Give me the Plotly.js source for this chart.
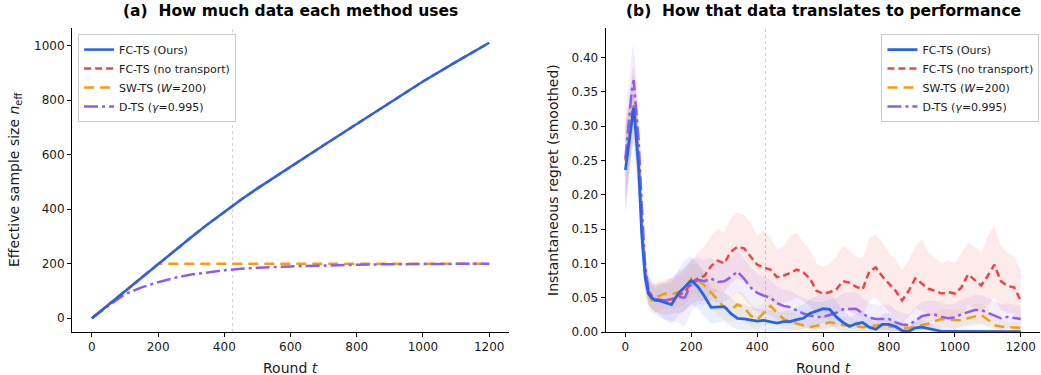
<!DOCTYPE html>
<html>
<head>
<meta charset="utf-8">
<script src="https://cdn.plot.ly/plotly-3.0.1.min.js"></script>
<style>html,body{margin:0;padding:0;background:#fff;}#chart{width:1041px;height:375px;}</style>
</head>
<body>
<div id="chart"></div>
<script>
// ---------- Panel (a): effective sample size ----------
const roundsA = [0,50,100,150,200,250,300,350,400,450,500,600,700,800,900,1000,1100,1200];
const neffFC  = [0,50,100,150,200,249,297,345,391,434,476,556,634,712,790,868,940,1010];
const neffNT  = [0,50,100,150,200,249,297,345,391,434,476,556,634,712,790,868,940,1010];
const neffSW  = [0,50,100,150,200,200,200,200,200,200,200,200,200,200,200,200,200,200];
const neffDT  = [0,46,88,113,132,148,160,169,176,181,185,190,194,196,198,199,200,200];

// ---------- Panel (b): smoothed instantaneous regret ----------
const roundsB = [0,10,20,25,30,40,50,60,70,80,90,100,120,140,160,180,200,220,240,260,280,300,320,340,360,380,400,420,440,460,480,500,520,540,560,580,600,620,640,660,680,700,720,740,760,780,800,820,840,860,880,900,920,940,960,980,1000,1020,1040,1060,1080,1100,1120,1140,1160,1180,1200];

const regFC = [0.236,0.275,0.315,0.327,0.300,0.240,0.140,0.080,0.056,0.050,0.046,0.046,0.043,0.040,0.056,0.066,0.075,0.066,0.052,0.036,0.036,0.037,0.027,0.020,0.019,0.017,0.016,0.017,0.015,0.013,0.015,0.015,0.018,0.020,0.027,0.030,0.034,0.033,0.022,0.014,0.008,0.012,0.014,0.007,0.004,0.011,0.011,0.008,0.002,0.001,0.006,0.007,0.005,0.002,0.001,0.001,0.001,0.001,0.0008,0.0006,0.0005,0.0005,0.0005,0.0004,0.0004,0.0004,0.0004];
const regFCLo = [0.175,0.22,0.26,0.275,0.245,0.19,0.10,0.06,0.04,0.034,0.03,0.026,0.018,0.012,0.024,0.032,0.04,0.034,0.022,0.012,0.014,0.016,0.008,0.004,0.003,0.002,0.002,0.002,0.002,0.001,0.002,0.002,0.003,0.004,0.008,0.01,0.014,0.013,0.004,0,0,0,0,0,0,0,0,0,0,0,0,0,0,0,0,0,0,0,0,0,0,0,0,0,0,0,0];
const regFCHi = [0.30,0.33,0.37,0.38,0.36,0.29,0.18,0.10,0.075,0.068,0.064,0.068,0.07,0.072,0.09,0.105,0.11,0.10,0.085,0.065,0.06,0.058,0.05,0.042,0.04,0.036,0.034,0.034,0.032,0.028,0.03,0.032,0.036,0.04,0.048,0.052,0.056,0.055,0.045,0.032,0.022,0.026,0.03,0.02,0.014,0.026,0.028,0.022,0.01,0.006,0.016,0.018,0.015,0.008,0.005,0.004,0.004,0.003,0.003,0.003,0.003,0.003,0.003,0.003,0.003,0.003,0.003];

const regNT = [0.25,0.28,0.32,0.33,0.31,0.25,0.15,0.085,0.06,0.052,0.048,0.046,0.045,0.048,0.053,0.058,0.072,0.078,0.082,0.096,0.104,0.100,0.117,0.124,0.122,0.110,0.098,0.094,0.091,0.080,0.082,0.086,0.091,0.087,0.078,0.060,0.056,0.058,0.062,0.074,0.072,0.066,0.062,0.088,0.094,0.081,0.070,0.060,0.046,0.060,0.078,0.070,0.063,0.060,0.056,0.058,0.056,0.065,0.084,0.076,0.068,0.082,0.098,0.074,0.067,0.065,0.046];
const regNTLo = [0.19,0.23,0.27,0.28,0.26,0.20,0.11,0.06,0.04,0.035,0.03,0.028,0.025,0.026,0.028,0.03,0.04,0.045,0.045,0.055,0.06,0.058,0.07,0.078,0.075,0.065,0.055,0.05,0.048,0.04,0.042,0.045,0.05,0.045,0.038,0.025,0.02,0.022,0.025,0.032,0.03,0.025,0.022,0.045,0.05,0.04,0.03,0.022,0.012,0.022,0.035,0.03,0.025,0.022,0.018,0.02,0.018,0.025,0.04,0.035,0.028,0.038,0.05,0.032,0.028,0.026,0.012];
const regNTHi = [0.30,0.33,0.38,0.39,0.37,0.30,0.19,0.11,0.08,0.07,0.068,0.07,0.072,0.078,0.085,0.092,0.105,0.115,0.125,0.14,0.15,0.145,0.165,0.175,0.17,0.16,0.14,0.148,0.138,0.12,0.125,0.14,0.145,0.13,0.12,0.10,0.095,0.10,0.11,0.125,0.12,0.11,0.108,0.135,0.142,0.13,0.115,0.105,0.09,0.105,0.125,0.135,0.115,0.108,0.10,0.105,0.10,0.115,0.13,0.125,0.115,0.14,0.155,0.125,0.115,0.11,0.09];

const regSW = [0.25,0.28,0.315,0.328,0.31,0.25,0.15,0.08,0.055,0.046,0.048,0.052,0.056,0.055,0.058,0.064,0.078,0.075,0.068,0.058,0.047,0.036,0.032,0.040,0.036,0.024,0.018,0.028,0.038,0.028,0.019,0.015,0.012,0.010,0.007,0.009,0.012,0.014,0.013,0.010,0.010,0.008,0.007,0.008,0.010,0.011,0.008,0.007,0.006,0.006,0.008,0.010,0.012,0.016,0.019,0.018,0.017,0.017,0.020,0.023,0.025,0.018,0.010,0.008,0.007,0.006,0.006];
const regSWLo = [0.19,0.23,0.27,0.285,0.27,0.21,0.11,0.055,0.035,0.028,0.028,0.03,0.034,0.034,0.036,0.04,0.054,0.052,0.046,0.036,0.026,0.018,0.014,0.02,0.018,0.008,0.004,0.012,0.02,0.012,0.005,0.003,0.002,0.001,0,0.001,0.002,0.003,0.003,0.002,0.002,0.001,0.001,0.001,0.002,0.002,0.001,0.001,0,0,0.001,0.002,0.003,0.005,0.007,0.006,0.005,0.005,0.007,0.009,0.01,0.006,0.002,0.001,0.001,0,0];
const regSWHi = [0.31,0.33,0.36,0.37,0.35,0.29,0.19,0.11,0.08,0.07,0.072,0.075,0.078,0.076,0.08,0.088,0.10,0.098,0.09,0.08,0.068,0.056,0.052,0.06,0.056,0.042,0.035,0.046,0.056,0.046,0.036,0.03,0.026,0.022,0.018,0.02,0.024,0.026,0.025,0.021,0.021,0.018,0.016,0.018,0.02,0.022,0.018,0.016,0.014,0.014,0.018,0.021,0.024,0.03,0.034,0.033,0.032,0.032,0.036,0.04,0.042,0.034,0.022,0.018,0.016,0.014,0.014];

const regDT = [0.253,0.30,0.355,0.367,0.34,0.28,0.18,0.095,0.062,0.052,0.048,0.047,0.046,0.048,0.051,0.050,0.070,0.076,0.074,0.078,0.073,0.074,0.080,0.088,0.078,0.065,0.057,0.053,0.050,0.042,0.038,0.036,0.031,0.027,0.024,0.022,0.022,0.025,0.028,0.033,0.034,0.034,0.027,0.021,0.019,0.019,0.019,0.014,0.011,0.010,0.017,0.023,0.025,0.025,0.022,0.020,0.021,0.026,0.029,0.032,0.032,0.028,0.024,0.020,0.022,0.020,0.019];
const regDTLo = [0.17,0.23,0.29,0.31,0.29,0.23,0.14,0.07,0.04,0.03,0.026,0.022,0.018,0.016,0.014,0.008,0.03,0.04,0.04,0.046,0.042,0.044,0.05,0.058,0.048,0.036,0.03,0.027,0.025,0.018,0.015,0.013,0.01,0.007,0.005,0.004,0.004,0.006,0.008,0.012,0.012,0.012,0.007,0.004,0.003,0.003,0.003,0.001,0,0,0.002,0.006,0.007,0.007,0.005,0.004,0.004,0.008,0.01,0.012,0.012,0.01,0.007,0.004,0.005,0.004,0.003];
const regDTHi = [0.33,0.36,0.41,0.42,0.39,0.33,0.22,0.12,0.085,0.075,0.07,0.072,0.074,0.08,0.088,0.095,0.105,0.108,0.105,0.108,0.102,0.102,0.108,0.118,0.108,0.094,0.085,0.08,0.076,0.066,0.062,0.06,0.054,0.05,0.046,0.044,0.044,0.047,0.05,0.056,0.058,0.058,0.05,0.042,0.04,0.04,0.04,0.032,0.028,0.026,0.036,0.044,0.046,0.046,0.042,0.04,0.041,0.047,0.05,0.054,0.054,0.05,0.045,0.04,0.042,0.04,0.038];

const xTicks = [0,200,400,600,800,1000,1200];
const yTicksA = [0,200,400,600,800,1000];
const yTicksB = [0,0.05,0.10,0.15,0.20,0.25,0.30,0.35,0.40];
const changePoint = 425;

// ---------- styling ----------
const C = {fc:'#2563eb', nt:'#ef4444', sw:'#f59e0b', dt:'#8b5cf6'};
const names = {fc:'FC-TS (Ours)', nt:'FC-TS (no transport)', sw:'SW-TS (<i>W</i>=200)', dt:'D-TS (<i>γ</i>=0.995)'};
const dashes = {fc:'solid', nt:'7px,4px', sw:'10px,6px', dt:'14px,4px,3px,4px'};
const rank = {fc:1, nt:2, sw:3, dt:4};
const FONT = 'DejaVu Sans, sans-serif';

function line(x, y, key, xa, ya, leg, w) {
  return {x:x, y:y, type:'scatter', mode:'lines', name:names[key], xaxis:xa, yaxis:ya,
    legend:leg, legendrank:rank[key],
    line:{color:C[key], width:w, dash:dashes[key]}, hoverinfo:'skip'};
}
function band(lo, hi, key, alpha) {
  const rgb = {fc:'37,99,235', nt:'239,68,68', sw:'245,158,11', dt:'139,92,246'}[key];
  return [
    {x:roundsB, y:lo, type:'scatter', mode:'lines', line:{width:0, color:'rgba(0,0,0,0)'}, xaxis:'x2', yaxis:'y2', legend:'legend2', showlegend:false, hoverinfo:'skip'},
    {x:roundsB, y:hi, type:'scatter', mode:'lines', line:{width:0, color:'rgba(0,0,0,0)'}, fill:'tonexty', fillcolor:'rgba('+rgb+','+alpha+')', xaxis:'x2', yaxis:'y2', legend:'legend2', showlegend:false, hoverinfo:'skip'}
  ];
}

const traces = [
  line(roundsA, neffNT, 'nt', 'x', 'y', 'legend', 2.5),
  line(roundsA, neffSW, 'sw', 'x', 'y', 'legend', 2.5),
  line(roundsA, neffDT, 'dt', 'x', 'y', 'legend', 2.5),
  line(roundsA, neffFC, 'fc', 'x', 'y', 'legend', 2.5),
  ...band(regNTLo, regNTHi, 'nt', 0.11),
  ...band(regSWLo, regSWHi, 'sw', 0.10),
  ...band(regDTLo, regDTHi, 'dt', 0.10),
  ...band(regFCLo, regFCHi, 'fc', 0.10),
  line(roundsB, regNT, 'nt', 'x2', 'y2', 'legend2', 2.5),
  line(roundsB, regSW, 'sw', 'x2', 'y2', 'legend2', 2.5),
  line(roundsB, regDT, 'dt', 'x2', 'y2', 'legend2', 2.5),
  line(roundsB, regFC, 'fc', 'x2', 'y2', 'legend2', 2.8)
];

const axBase = {showgrid:false, zeroline:false, showline:true, linecolor:'#000', linewidth:1,
  ticks:'outside', ticklen:4, tickwidth:1, tickcolor:'#000',
  tickfont:{family:FONT, size:12, color:'#1a1a1a'}, mirror:false, fixedrange:true};

const legBase = {bgcolor:'rgba(255,255,255,0.9)', bordercolor:'#cccccc', borderwidth:1,
  font:{family:FONT, size:11, color:'#1a1a1a'}, yanchor:'top', tracegroupgap:0, itemwidth:30,
  traceorder:'normal'};

const layout = {
  width:1041, height:375, margin:{l:0, r:0, t:28, b:43},
  paper_bgcolor:'#fff', plot_bgcolor:'#fff', showlegend:true,
  xaxis: Object.assign({}, axBase, {domain:[0.0692,0.4890], range:[-60,1260], tickvals:xTicks, anchor:'y'}),
  yaxis: Object.assign({}, axBase, {domain:[0,1], range:[-50.5,1064], tickvals:yTicksA, anchor:'x'}),
  xaxis2: Object.assign({}, axBase, {domain:[0.5818,0.9995], range:[-60,1260], tickvals:xTicks, anchor:'y2'}),
  yaxis2: Object.assign({}, axBase, {domain:[0,1], range:[0,0.443], tickvals:yTicksB, tickformat:'.2f', anchor:'x2'}),
  legend: Object.assign({}, legBase, {x:0.075, y:0.98, xanchor:'left'}),
  legend2: Object.assign({}, legBase, {x:0.9985, y:0.98, xanchor:'right'}),
  shapes:[
    {type:'line', xref:'x', yref:'y domain', x0:changePoint, x1:changePoint, y0:0, y1:1, layer:'below', line:{color:'#cfcfcf', width:1, dash:'dot'}},
    {type:'line', xref:'x2', yref:'y2 domain', x0:changePoint, x1:changePoint, y0:0, y1:1, layer:'below', line:{color:'#cfcfcf', width:1, dash:'dot'}}
  ],
  annotations:[
    {text:'<b>(a)&nbsp; How much data each method uses</b>', xref:'paper', yref:'paper', x:0.2791, y:1.056, xanchor:'center', yanchor:'middle', showarrow:false, font:{family:FONT, size:15.5, color:'#000'}},
    {text:'<b>(b)&nbsp; How that data translates to performance</b>', xref:'paper', yref:'paper', x:0.7906, y:1.056, xanchor:'center', yanchor:'middle', showarrow:false, font:{family:FONT, size:15.5, color:'#000'}},
    {text:'Round <i>t</i>', xref:'paper', yref:'paper', x:0.2791, y:-0.117, xanchor:'center', yanchor:'middle', showarrow:false, font:{family:FONT, size:14, color:'#1a1a1a'}},
    {text:'Round <i>t</i>', xref:'paper', yref:'paper', x:0.7906, y:-0.117, xanchor:'center', yanchor:'middle', showarrow:false, font:{family:FONT, size:14, color:'#1a1a1a'}},
    {text:'Effective sample size <i>n</i><sub>eff</sub>', xref:'paper', yref:'paper', x:15/1041, y:0.5, xanchor:'center', yanchor:'middle', textangle:-90, showarrow:false, font:{family:FONT, size:14, color:'#1a1a1a'}},
    {text:'Instantaneous regret (smoothed)', xref:'paper', yref:'paper', x:553/1041, y:0.5, xanchor:'center', yanchor:'middle', textangle:-90, showarrow:false, font:{family:FONT, size:14, color:'#1a1a1a'}}
  ]
};

Plotly.newPlot('chart', traces, layout, {displayModeBar:false, staticPlot:true});
</script>
</body>
</html>
